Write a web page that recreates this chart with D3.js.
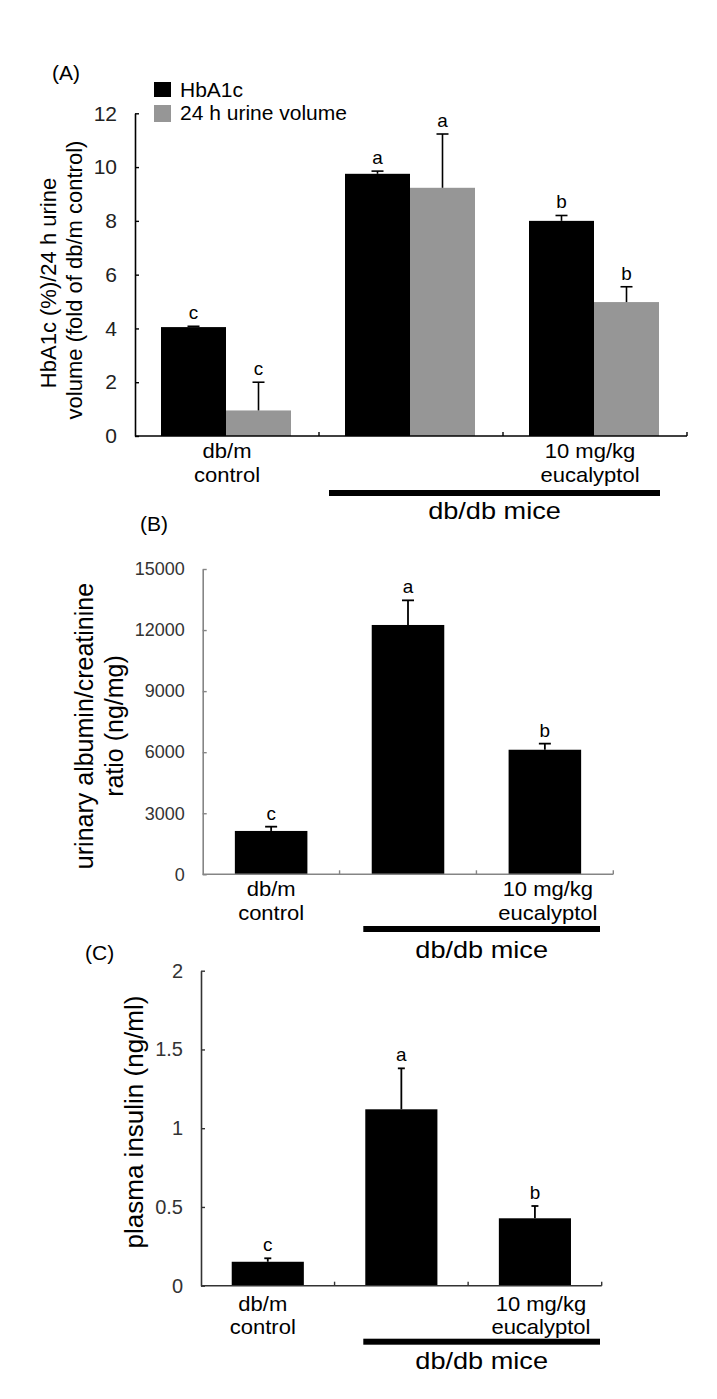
<!DOCTYPE html>
<html><head><meta charset="utf-8">
<script src="https://cdn.jsdelivr.net/npm/d3@7"></script>
<style>
body{margin:0;background:#fff}
svg{display:block}
text{font-family:"Liberation Sans",Arial,sans-serif}
</style>
</head><body>
<svg id="chart" width="717" height="1399"></svg>
<script>
// ---------------- data ----------------
const groups = ["db/m control", "db/db", "db/db + 10 mg/kg eucalyptol"];
const groupLabels = [["db/m", "control"], [], ["10 mg/kg", "eucalyptol"]];
const bracketLabel = "db/db mice";

// Panel A
const seriesA = ["HbA1c", "24 h urine volume"];
const hba1c = [4.05, 9.75, 8.0];
const hba1cErr = [0.03, 0.1, 0.2];
const hba1cSig = ["c", "a", "b"];
const urine = [0.95, 9.23, 4.98];
const urineErr = [1.05, 2.0, 0.57];
const urineSig = ["c", "a", "b"];
const ticksA = [0, 2, 4, 6, 8, 10, 12];
const titleA = ["HbA1c (%)/24 h urine", "volume (fold of db/m control)"];

// Panel B
const acr = [2130, 12250, 6120];
const acrErr = [210, 1210, 300];
const acrSig = ["c", "a", "b"];
const ticksB = [0, 3000, 6000, 9000, 12000, 15000];
const titleB = ["urinary albumin/creatinine", "ratio (ng/mg)"];

// Panel C
const insulin = [0.152, 1.12, 0.428];
const insulinErr = [0.022, 0.26, 0.078];
const insulinSig = ["c", "a", "b"];
const ticksC = [0, 0.5, 1, 1.5, 2];
const titleC = ["plasma insulin (ng/ml)"];

const panelLetters = ["(A)", "(B)", "(C)"];
const colors = {HbA1c: "#000000", "24 h urine volume": "#969696"};

// ---------------- helpers ----------------
const svg = d3.select("#chart");
function stext(g, x, y, str, size, sx, anchor, color) {
  return g.append("text")
    .attr("transform", `translate(${x},${y}) scale(${sx},1)`)
    .attr("text-anchor", anchor || "middle")
    .attr("font-size", size)
    .attr("fill", color || "#000")
    .text(str);
}
function rtitle(g, x, y, str, size) {
  return g.append("text")
    .attr("transform", `translate(${x},${y}) rotate(-90)`)
    .attr("text-anchor", "middle")
    .attr("font-size", size)
    .attr("fill", "#000")
    .text(str);
}
function yAxis(g, scale, x, ticks, fmt, fontSize, color, labelColor) {
  const ax = g.append("g").attr("transform", `translate(${x},0)`)
    .call(d3.axisLeft(scale).tickValues(ticks).tickFormat(fmt)
      .tickSizeInner(-4).tickSizeOuter(0).tickPadding(18));
  ax.select(".domain").attr("stroke", color).attr("stroke-width", 1.6);
  ax.selectAll(".tick line").attr("stroke", color).attr("stroke-width", 1.4);
  ax.selectAll(".tick text").attr("font-size", fontSize).attr("fill", labelColor)
    .attr("font-family", '"Liberation Sans",Arial,sans-serif');
  return ax;
}
function xAxis(g, band, y0, color) {
  const r = band.range();
  g.append("line").attr("x1", r[0]).attr("x2", r[1]).attr("y1", y0).attr("y2", y0)
    .attr("stroke", color).attr("stroke-width", 1.6);
  g.selectAll(null).data(band.domain()).enter().append("line")
    .attr("x1", d => band(d) + band.bandwidth())
    .attr("x2", d => band(d) + band.bandwidth())
    .attr("y1", y0).attr("y2", y0 - 4)
    .attr("stroke", color).attr("stroke-width", 1.4);
}
function errBar(g, cx, yTop, yBar, cap, sw) {
  g.append("line").attr("x1", cx).attr("x2", cx).attr("y1", yBar).attr("y2", yTop)
    .attr("stroke", "#000").attr("stroke-width", sw);
  g.append("line").attr("x1", cx - cap / 2).attr("x2", cx + cap / 2).attr("y1", yTop).attr("y2", yTop)
    .attr("stroke", "#000").attr("stroke-width", sw);
}
function catLabels(g, band, yb1, yb2, dx) {
  groupLabels.forEach((lines, i) => {
    const cx = band(groups[i]) + band.bandwidth() / 2 + (dx ? dx[i] : 0);
    if (lines[0]) stext(g, cx, yb1, lines[0], 20, 1.1);
    if (lines[1]) stext(g, cx, yb2, lines[1], 20, 1.1);
  });
}
function bracket(g, x1, x2, yc, ytext) {
  g.append("rect").attr("x", x1).attr("y", yc - 3).attr("width", x2 - x1).attr("height", 6).attr("fill", "#000");
  stext(g, (x1 + x2) / 2, ytext, bracketLabel, 23, 1.18);
}

// ---------------- Panel A ----------------
(function () {
  const g = svg.append("g");
  const xA = d3.scaleBand().domain(groups).range([135, 687]);
  const xA1 = d3.scaleBand().domain(seriesA).range([26, 156]);
  const yA = d3.scaleLinear().domain([0, 12]).range([436, 113.3]);
  const vals = {HbA1c: hba1c, "24 h urine volume": urine};
  const errs = {HbA1c: hba1cErr, "24 h urine volume": urineErr};
  const sigs = {HbA1c: hba1cSig, "24 h urine volume": urineSig};

  seriesA.forEach(s => {
    g.selectAll(null).data(groups).enter().append("rect")
      .attr("x", d => xA(d) + xA1(s))
      .attr("y", (d, i) => yA(vals[s][i]))
      .attr("width", xA1.bandwidth())
      .attr("height", (d, i) => yA(0) - yA(vals[s][i]))
      .attr("fill", colors[s]);
  });
  seriesA.forEach(s => {
    groups.forEach((d, i) => {
      const cx = xA(d) + xA1(s) + xA1.bandwidth() / 2;
      const top = yA(vals[s][i] + errs[s][i]);
      errBar(g, cx, top, yA(vals[s][i]), 12, 1.6);
      stext(g, cx, top - 7, sigs[s][i], 18, 1.05);
    });
  });
  yAxis(g, yA, 135, ticksA, d3.format("d"), 21, "#000", "#222");
  xAxis(g, xA, 436, "#000");
  catLabels(g, xA, 458, 482, [0, 0, -5]);
  bracket(g, xA(groups[1]) + 10, xA(groups[2]) + xA.bandwidth() - 27, 493, 519);

  rtitle(g, 55.5, 283, titleA[0], 22);
  rtitle(g, 82, 280, titleA[1], 22);

  // legend
  const lg = g.append("g");
  seriesA.forEach((s, i) => {
    lg.append("rect").attr("x", 154).attr("y", i === 0 ? 82 : 105).attr("width", 17)
      .attr("height", i === 0 ? 15 : 17).attr("fill", colors[s]);
    lg.append("text").attr("x", 180).attr("y", i === 0 ? 97 : 120).attr("font-size", 21)
      .attr("fill", "#000").text(s);
  });
  g.append("text").attr("x", 52).attr("y", 80).attr("font-size", 21).text(panelLetters[0]);
})();

// ---------------- single series panel ----------------
function singlePanel(cfg) {
  const g = svg.append("g");
  const xb = d3.scaleBand().domain(groups).range([cfg.x0, cfg.x1]);
  const xbar = d3.scaleBand().domain(groups).range([cfg.x0, cfg.x1])
    .paddingInner(cfg.pad).paddingOuter(cfg.pad / 2);
  const y = d3.scaleLinear().domain([0, cfg.max]).range([cfg.y0, cfg.yTop]);
  g.selectAll(null).data(groups).enter().append("rect")
    .attr("x", d => xbar(d))
    .attr("y", (d, i) => y(cfg.vals[i]))
    .attr("width", xbar.bandwidth())
    .attr("height", (d, i) => y(0) - y(cfg.vals[i]))
    .attr("fill", "#000");
  groups.forEach((d, i) => {
    const cx = xbar(d) + xbar.bandwidth() / 2;
    const top = y(cfg.vals[i] + cfg.errs[i]);
    errBar(g, cx, top, y(cfg.vals[i]), cfg.cap, 1.8);
    stext(g, cx, top - 7, cfg.sig[i], 18, 1.05);
  });
  yAxis(g, y, cfg.x0, cfg.ticks, cfg.fmt, cfg.tickFont, cfg.axisColor, "#333");
  xAxis(g, xb, cfg.y0, cfg.axisColor);
  catLabels(g, xb, cfg.lab1, cfg.lab2, cfg.labDx);
  bracket(g, cfg.br[0], cfg.br[1], cfg.br[2], cfg.br[3]);
  cfg.titles.forEach((t, i) => rtitle(g, cfg.titleX[i], cfg.titleY, t, cfg.titleFont));
  g.append("text").attr("x", cfg.letter[0]).attr("y", cfg.letter[1]).attr("font-size", 21).text(cfg.letter[2]);
}

singlePanel({
  x0: 202.7, x1: 613.3, y0: 874.3, yTop: 569, max: 15000, pad: 0.47,
  vals: acr, errs: acrErr, sig: acrSig, cap: 12,
  ticks: ticksB, fmt: d3.format("d"), tickFont: 18, axisColor: "#858585",
  lab1: 896, lab2: 920, labDx: [0, 0, 3],
  br: [363.3, 600, 929, 958],
  titles: titleB, titleX: [93, 123], titleY: 726, titleFont: 25,
  letter: [140, 531, panelLetters[1]]
});

singlePanel({
  x0: 201, x1: 601.7, y0: 1285.7, yTop: 970.7, max: 2, pad: 0.46,
  vals: insulin, errs: insulinErr, sig: insulinSig, cap: 7,
  ticks: ticksC, fmt: d => d3.format("")(d), tickFont: 20, axisColor: "#333",
  lab1: 1311, lab2: 1334, labDx: [-5, 0, 6],
  br: [363.3, 600, 1341.7, 1369],
  titles: titleC, titleX: [143], titleY: 1122, titleFont: 26,
  letter: [85, 960, panelLetters[2]]
});
</script>
</body></html>
